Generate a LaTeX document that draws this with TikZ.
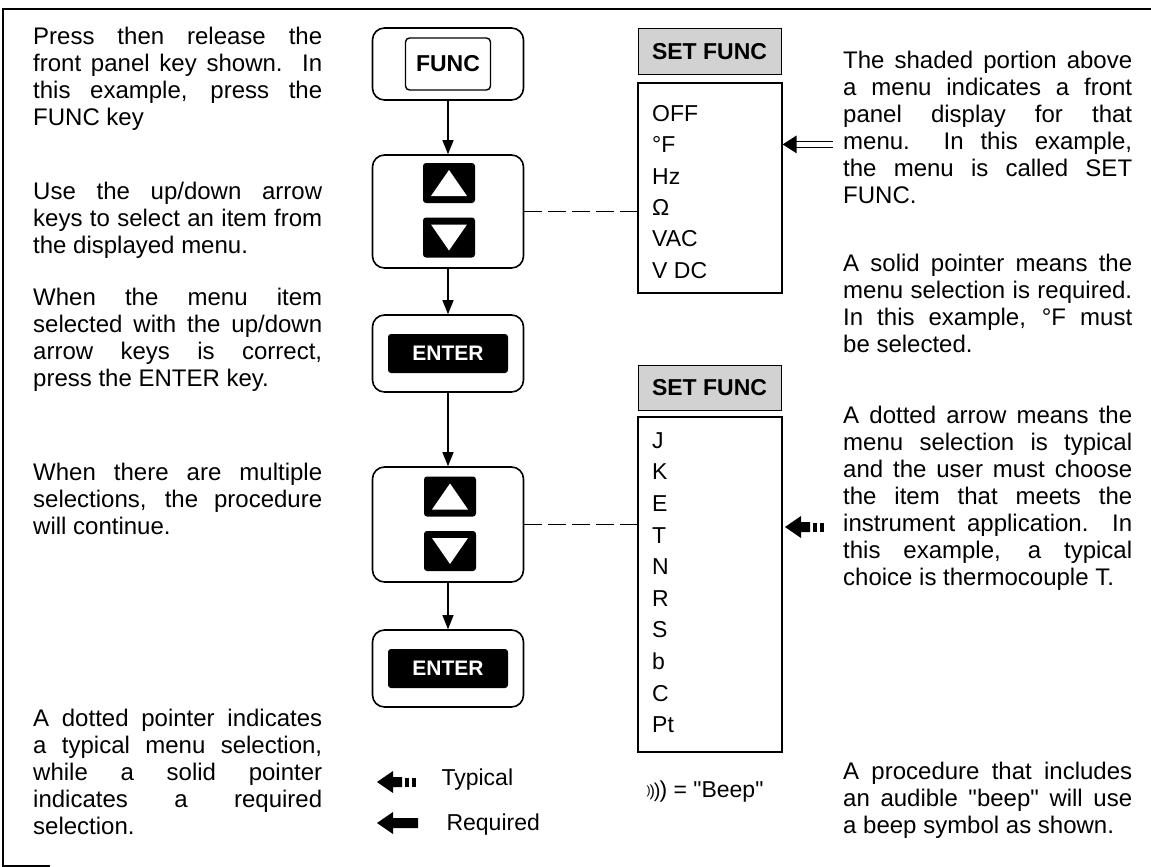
\documentclass[tikz,border=0pt]{standalone}
\usepackage{fontspec}
\setmainfont{Liberation Sans}
\usetikzlibrary{arrows.meta,positioning}

\newcommand\reqptr[1]{\fill (#1) -- ++(16,-11) -- ++(0,6) -- ++(25,0) -- ++(0,10) -- ++(-25,0) -- ++(0,6) -- cycle;}
\newcommand\typptr[1]{\fill (#1) -- ++(16,-11) -- ++(0,6) -- ++(9,0) -- ++(0,10) -- ++(-9,0) -- ++(0,6) -- cycle;
  \fill ([xshift=28pt]#1) ++(0,-4.5) rectangle ++(4,9);
  \fill ([xshift=35pt]#1) ++(0,-4.5) rectangle ++(4,9);}
\newcommand\dblptr[1]{\fill (#1) -- ++(14,-9) -- ++(0,18) -- cycle;
  \draw[line width=1.3pt] ([yshift=3pt]#1) ++(10,0) -- ++(40,0) ([yshift=-3pt]#1) ++(10,0) -- ++(40,0);}

\tikzset{
  note/.style={anchor=north west, inner sep=0pt, text width=289pt, align=justify, font=\fontsize{24}{27}\selectfont},
  keybox/.style={draw, line width=1.6pt, rounded corners=12pt, minimum width=151pt},
  keycap/.style={fill=black, rounded corners=3pt, minimum width=52pt, minimum height=40pt, inner sep=0pt},
  enterkey/.style={fill=black, text=white, rounded corners=3pt, minimum width=120pt, minimum height=39pt, inner sep=0pt, font=\fontsize{21}{21}\selectfont\bfseries},
  menubox/.style={draw, line width=1.3pt, minimum width=144pt, inner sep=0pt},
  menuhead/.style={draw, line width=1pt, fill=gray!35, minimum width=143pt, minimum height=46pt, inner sep=0pt, font=\fontsize{23}{23}\selectfont\bfseries},
  menuitem/.style={anchor=west, inner sep=0pt, text height=16.5pt, text depth=0pt, font=\fontsize{23}{23}\selectfont},
  flow/.style={line width=1.2pt, -{Triangle[length=14pt,width=11pt]}},
  link/.style={line width=1.4pt, dash pattern=on 18pt off 6pt},
}

\begin{document}
\begin{tikzpicture}[x=1pt,y=-1pt]
\useasboundingbox (0,0) rectangle (1151,867);
\draw[line width=1.3pt] (1151,9) -- (3,9) -- (3,866) -- (50,866);

\node[note] (press) at (33,25) {\strut Press then release the\linebreak front panel key shown.\ \ In\linebreak this example, press the\linebreak FUNC key};
\node[note] (usekeys) at (33,180) {\strut Use the up/down arrow\linebreak keys to select an item from\linebreak the displayed menu.};
\node[note] (enterpara) at (33,286) {\strut When the menu item\linebreak selected with the up/down\linebreak arrow keys is correct,\linebreak press the ENTER key.};
\node[note] (multi) at (33,461) {\strut When there are multiple\linebreak selections, the procedure\linebreak will continue.};
\node[note] (pointers) at (33,707) {\strut A dotted pointer indicates\linebreak a typical menu selection,\linebreak while a solid pointer\linebreak indicates a required\linebreak selection.};

\node[note] (shaded) at (843,49) {\strut The shaded portion above\linebreak a menu indicates a front\linebreak panel display for that\linebreak menu.\ \ In this example,\linebreak the menu is called SET\linebreak FUNC.};
\node[note] (solid) at (843,252) {\strut A solid pointer means the\linebreak menu selection is required.\linebreak In this example, °F must\linebreak be selected.};
\node[note] (dotted) at (843,404) {\strut A dotted arrow means the\linebreak menu selection is typical\linebreak and the user must choose\linebreak the item that meets the\linebreak instrument application.\ \ In\linebreak this example, a typical\linebreak choice is thermocouple T.};
\node[note] (beeppara) at (843,760) {\strut A procedure that includes\linebreak an audible \textquotedbl beep\textquotedbl{} will use\linebreak a beep symbol as shown.};

\node[keybox, minimum height=72pt] (func) at (448,64) {};
\node[draw, line width=1.4pt, rounded corners=4pt, minimum width=85pt, minimum height=52pt, font=\fontsize{23}{23}\selectfont\bfseries] (funckey) at (func.center) {FUNC};

\node[keybox, minimum height=113pt] (updownA) at (448,211.5) {};
\node[keycap] (upA) at (449,183) {};
\node[keycap] (downA) at (449,237.5) {};
\fill[white] (upA.center) ++(-18,13) -- ++(36,0) -- ++(-18,-26) -- cycle;
\fill[white] (downA.center) ++(-18,-13) -- ++(36,0) -- ++(-18,26) -- cycle;

\node[keybox, minimum height=77pt] (enterA) at (448,353.5) {};
\node[enterkey] (enterkeyA) at (enterA.center) {ENTER};

\node[keybox, minimum height=115pt] (updownB) at (448,524.5) {};
\node[keycap] (upB) at (450,496.5) {};
\node[keycap] (downB) at (450,551) {};
\fill[white] (upB.center) ++(-18,13) -- ++(36,0) -- ++(-18,-26) -- cycle;
\fill[white] (downB.center) ++(-18,-13) -- ++(36,0) -- ++(-18,26) -- cycle;

\node[keybox, minimum height=77pt] (enterB) at (448,668.5) {};
\node[enterkey] (enterkeyB) at (enterB.center) {ENTER};

\draw[flow] (func) -- (updownA);
\draw[flow] (updownA) -- (enterA);
\draw[flow] (enterA) -- (updownB);
\draw[flow] (updownB) -- (enterB);

\node[menuhead] (headA) at (709.5,51.5) {SET FUNC};
\node[menubox, minimum height=210pt] (menuA) at (710,188) {};
\foreach \name [count=\i] in {OFF,°F,Hz,Ω,VAC,V DC}
  \node[menuitem] (itemA\i) at (652,81.6+31.4*\i) {\name};

\node[menuhead, minimum height=45pt] (headB) at (709.5,387.5) {SET FUNC};
\node[menubox, minimum height=335pt] (menuB) at (710,584.5) {};
\foreach \name [count=\i] in {J,K,E,T,N,R,S,b,C,Pt}
  \node[menuitem] (itemB\i) at (652,408.4+31.6*\i) {\name};

\draw[link] (updownA.east) -- (updownA.east -| menuA.west);
\draw[link] (updownB.east) -- (updownB.east -| menuB.west);

\coordinate (ptrA) at (menuA.east |- itemA2);
\dblptr{ptrA}
\coordinate (ptrB) at (785,527);
\typptr{ptrB}

\coordinate (typleg) at (377,782);
\typptr{typleg}
\node[anchor=west, font=\fontsize{23}{23}\selectfont] (typical) at (438,780) {Typical};
\coordinate (reqleg) at (377,823);
\reqptr{reqleg}
\node[anchor=west, font=\fontsize{23}{23}\selectfont] (required) at (443,825) {Required};

\node[anchor=west, font=\fontsize{23}{23}\selectfont] (beep) at (643,792) {{\fontsize{12}{12}\selectfont\raisebox{3pt}{)}}\kern-1pt{\fontsize{16}{16}\selectfont\raisebox{1.5pt}{)}}\kern-1pt{\fontsize{20}{20}\selectfont)}\kern-1pt{\fontsize{23}{23}\selectfont)} = \textquotedbl Beep\textquotedbl};
\end{tikzpicture}
\end{document}
